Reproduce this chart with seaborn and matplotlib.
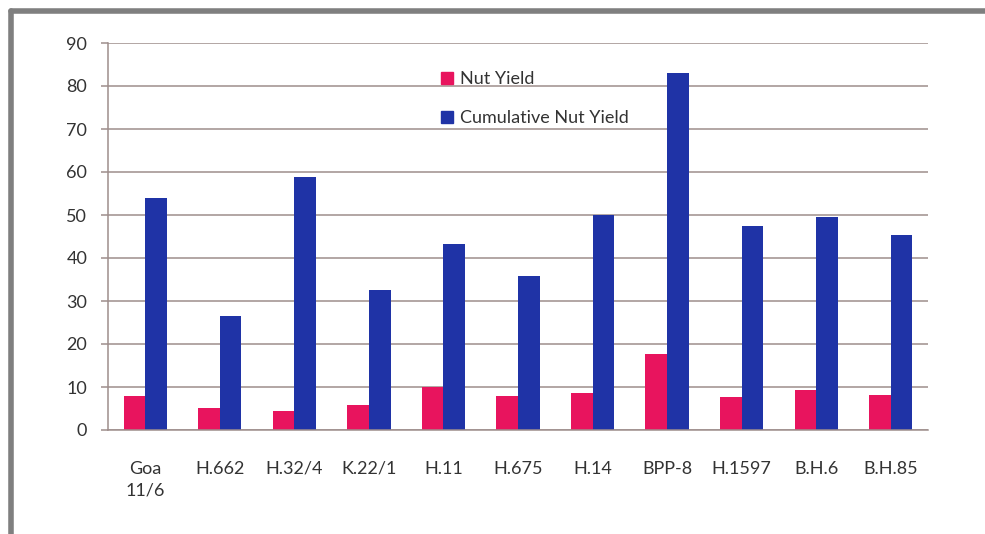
import numpy as np
import pandas as pd
import matplotlib
matplotlib.use("Agg")
import matplotlib.pyplot as plt
from matplotlib.lines import Line2D
import seaborn as sns

# data
varieties = ["Goa\n11/6", "H.662", "H.32/4", "K.22/1", "H.11", "H.675",
             "H.14", "BPP-8", "H.1597", "B.H.6", "B.H.85"]
nut_yield = [7.9, 5.1, 4.5, 5.7, 10.1, 7.8, 8.7, 17.7, 7.7, 9.3, 8.1]
cumulative_yield = [54.0, 26.5, 58.8, 32.6, 43.3, 35.8, 50.0, 83.0, 47.4, 49.5, 45.3]
series_names = ["Nut Yield", "Cumulative Nut Yield"]
y_ticks = list(range(0, 91, 10))

df = pd.DataFrame({
    "variety": varieties * 2,
    "value": nut_yield + cumulative_yield,
    "series": [series_names[0]] * len(varieties) + [series_names[1]] * len(varieties),
})

sns.set_theme(style="white")
plt.rcParams['font.family'] = ['Lato', 'DejaVu Sans']

fig = plt.figure(figsize=(9.85, 5.34), dpi=100)
ax = fig.add_axes([108 / 985, 1 - 430 / 534, 820 / 985, 387 / 534])

palette = {series_names[0]: "#E8145E", series_names[1]: "#1F33A6"}
sns.barplot(data=df, x="variety", y="value", hue="series", palette=palette,
            width=0.58, saturation=1, linewidth=0, ax=ax, legend=False)

ax.set_ylim(0, 90)
ax.set_xlim(-0.5, len(varieties) - 0.5)
ax.set_yticks(y_ticks)
ax.yaxis.grid(True, color="#9E8E8C", linewidth=1.1)
ax.set_axisbelow(True)
ax.set_xlabel("")
ax.set_ylabel("")

for side in ["top", "right"]:
    ax.spines[side].set_visible(False)
for side in ["left", "bottom"]:
    ax.spines[side].set_color("#9E8E8C")
    ax.spines[side].set_linewidth(1.1)

# category ticks between groups, labels centred under groups
ax.set_xticks(np.arange(-0.5, len(varieties) + 0.5, 1), minor=True)
ax.tick_params(axis="x", which="minor", length=5, color="#9E8E8C", width=1.1, direction="out")
ax.tick_params(axis="x", which="major", length=0, pad=22, labelsize=13, labelcolor="#333333")
ax.tick_params(axis="y", length=5, color="#9E8E8C", width=1.1, direction="out", pad=10,
               left=True, labelsize=13, labelcolor="#333333")
ax.set_xticks(range(len(varieties)))
ax.set_xticklabels(varieties, va="top", linespacing=1.45)

# legend
handles = [Line2D([0], [0], marker="s", linestyle="", markersize=8,
                  markerfacecolor=palette[s], markeredgecolor=palette[s]) for s in series_names]
ax.legend(handles, series_names, loc="upper left", bbox_to_anchor=(0.385, 0.97),
          frameon=False, fontsize=13, handlelength=0.8, handletextpad=0.3,
          labelspacing=1.3, labelcolor="#333333")

# grey frame around the chart
fig.add_artist(Line2D([11 / 985, 11 / 985], [0, 1 - 11 / 534], color="#7F7F7F",
                      linewidth=4, transform=fig.transFigure))
fig.add_artist(Line2D([11 / 985, 1], [1 - 11 / 534, 1 - 11 / 534], color="#7F7F7F",
                      linewidth=4, transform=fig.transFigure))

fig.savefig("out.png", dpi=100)
